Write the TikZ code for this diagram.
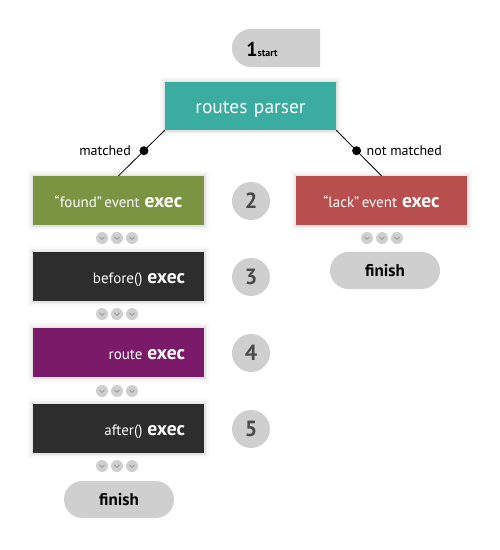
\documentclass[tikz,border=0pt]{standalone}
\usepackage{fontspec}
\setmainfont{PT Sans}
\definecolor{rpteal}{RGB}{58,173,160}
\definecolor{foundgreen}{RGB}{123,148,66}
\definecolor{lackred}{RGB}{184,78,78}
\definecolor{darkbox}{RGB}{45,45,45}
\definecolor{routepurple}{RGB}{124,26,106}
\definecolor{pillgrey}{RGB}{207,207,207}
\definecolor{numgrey}{RGB}{74,74,74}
\definecolor{chevgrey}{RGB}{150,150,150}
\newcommand{\ex}{\textbf{\fontsize{19.5}{20}\selectfont exec}}
\tikzset{
  softshadow/.style={
    preaction={draw=black, draw opacity=0.025, line width=10pt},
    preaction={draw=black, draw opacity=0.035, line width=6pt},
    preaction={draw=black, draw opacity=0.05, line width=3pt}},
  box/.style={minimum height=49pt, text width=133pt, inner xsep=19pt, inner ysep=0pt,
    text height=13pt, text depth=0pt,
    text=white, align=right, font=\fontsize{15}{18}\selectfont, softshadow},
  numcircle/.style={circle, fill=pillgrey, minimum size=38pt, inner sep=0pt,
    text=numgrey, font=\bfseries\fontsize{22}{22}\selectfont},
  pill/.style={fill=pillgrey, rounded corners=18.5pt, minimum width=110pt, minimum height=37pt,
    inner sep=0pt, font=\bfseries\fontsize{17}{17}\selectfont},
  dot/.style={circle, fill=black, minimum size=9pt, inner sep=0pt},
  lbl/.style={font=\fontsize{14}{14}\selectfont, inner sep=0pt},
  conn/.style={draw=black, line width=0.8pt},
  chevs/.pic={
    \foreach \dx in {-15,0,15}{
      \fill[pillgrey] (\dx,0) circle[radius=6];
      \draw[chevgrey, line width=0.9pt, line cap=round, line join=round]
        (\dx-2.4,-1) -- (\dx,1.4) -- (\dx+2.4,-1);
    }
  }
}
\begin{document}
\begin{tikzpicture}[x=1pt,y=-1pt]
\useasboundingbox (0,0) rectangle (500,550);
\fill[white] (0,0) rectangle (500,550);
% start tab
\fill[pillgrey] (320,29) -- (251,29) arc[start angle=270, end angle=90, radius=19] -- (320,67) -- cycle;
\node[anchor=base, inner sep=0pt, text=black] (st) at (262,56)
  {\textbf{\fontsize{20}{20}\selectfont 1}\textbf{\fontsize{10}{10}\selectfont start}};
% routes parser
\node[box, fill=rpteal, align=center, minimum height=48pt, text height=14pt,
  font=\fontsize{19.5}{20}\selectfont] (rp) at (250.5,106) {routes parser};
% boxes
\node[box, fill=foundgreen, align=center] (found) at (118.5,200.5) {“found”\,event \ex};
\node[box, fill=lackred, align=center] (lack) at (381.5,200.5) {“lack”\,event \ex};
\node[box, fill=darkbox] (before) at (118.5,276.5) {before() \ex};
\node[box, fill=routepurple] (route) at (118.5,352.5) {route \ex};
\node[box, fill=darkbox] (after) at (118.5,428.5) {after() \ex};
% connectors
\draw[conn] (rp.south west) -- node[pos=0.45, dot] (d1) {} (found.north);
\draw[conn] (rp.south east) -- node[pos=0.45, dot] (d2) {} (lack.north);
\node[lbl, anchor=east] (m1) at ([xshift=-8pt]d1.west) {matched};
\node[lbl, anchor=west] (m2) at ([xshift=5pt]d2.east) {not matched};
% number circles
\node[numcircle] (n2) at (251,201) {2};
\node[numcircle] (n3) at (251,277) {3};
\node[numcircle] (n4) at (251,353) {4};
\node[numcircle] (n5) at (251,429) {5};
% chevrons
\pic at (117,238) {chevs};
\pic at (117,314) {chevs};
\pic at (117,391) {chevs};
\pic at (117,466) {chevs};
\pic at (382,238) {chevs};
% finish pills
\node[pill] (fin1) at (119,499.5) {finish};
\node[pill] (fin2) at (385,270.5) {finish};
\end{tikzpicture}
\end{document}
